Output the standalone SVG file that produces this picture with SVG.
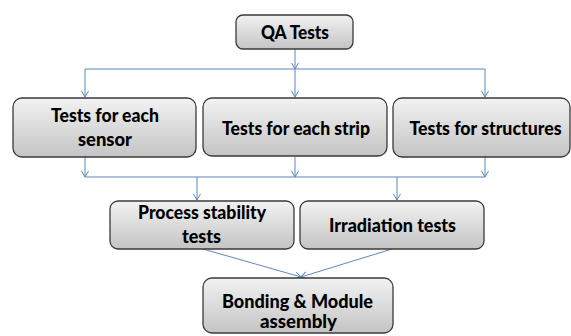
<svg xmlns="http://www.w3.org/2000/svg" width="571" height="336" viewBox="0 0 571 336">
<style>
.box{fill:url(#g);stroke:#3a3a3a;stroke-width:1.3}
.t{font-family:Lato,"Liberation Sans",sans-serif;font-weight:900;font-size:18px;fill:#000;text-anchor:middle}
.c{fill:none;stroke:#5b87c0;stroke-width:1}
</style>
<defs>
<linearGradient id="g" x1="0" y1="0" x2="0" y2="1">
<stop offset="0" stop-color="#f2f2f2"/>
<stop offset="1" stop-color="#c4c4c4"/>
</linearGradient>
<marker id="a" markerWidth="10" markerHeight="10" refX="7" refY="4" orient="auto" markerUnits="userSpaceOnUse">
<path d="M1,0.5 L7,4 L1,7.5" fill="none" stroke="#5b87c0" stroke-width="1"/>
</marker>
</defs>
<rect width="571" height="336" fill="#fff"/>
<g id="connectors">
<path class="c" d="M295,49 V69" marker-end="url(#a)"/>
<path class="c" d="M85,69 H485"/>
<path class="c" d="M85,69 V97" marker-end="url(#a)"/>
<path class="c" d="M295,69 V97" marker-end="url(#a)"/>
<path class="c" d="M485,69 V97" marker-end="url(#a)"/>
<path class="c" d="M85,157 V177" marker-end="url(#a)"/>
<path class="c" d="M295,157 V177" marker-end="url(#a)"/>
<path class="c" d="M485,157 V177" marker-end="url(#a)"/>
<path class="c" d="M85,177 H485"/>
<path class="c" d="M197,177 V200" marker-end="url(#a)"/>
<path class="c" d="M397,177 V200" marker-end="url(#a)"/>
<path class="c" d="M203,249 L301,277" marker-end="url(#a)"/>
<path class="c" d="M392,249 L301,277" marker-end="url(#a)"/>
</g>
<g id="qa">
<rect class="box" x="236" y="15" width="117" height="34" rx="7"/>
<text class="t" x="295" y="39" textLength="68" lengthAdjust="spacingAndGlyphs">QA Tests</text>
</g>
<g id="sensor">
<rect class="box" x="13" y="98" width="183" height="59" rx="9"/>
<text class="t" x="105" y="122" textLength="108" lengthAdjust="spacingAndGlyphs">Tests for each</text>
<text class="t" x="105" y="146" textLength="54" lengthAdjust="spacingAndGlyphs">sensor</text>
</g>
<g id="strip">
<rect class="box" x="203" y="98" width="184" height="58" rx="9"/>
<text class="t" x="296" y="135" textLength="148" lengthAdjust="spacingAndGlyphs">Tests for each strip</text>
</g>
<g id="structures">
<rect class="box" x="393" y="98" width="177" height="59" rx="9"/>
<text class="t" x="485.5" y="135" textLength="152" lengthAdjust="spacingAndGlyphs">Tests for structures</text>
</g>
<g id="process">
<rect class="box" x="110" y="201" width="184" height="48" rx="8"/>
<text class="t" x="202" y="219" textLength="128" lengthAdjust="spacingAndGlyphs">Process stability</text>
<text class="t" x="201.5" y="243" textLength="39" lengthAdjust="spacingAndGlyphs">tests</text>
</g>
<g id="irradiation">
<rect class="box" x="300" y="201" width="184" height="48" rx="8"/>
<text class="t" x="392.5" y="232" textLength="127" lengthAdjust="spacingAndGlyphs">Irradiation tests</text>
</g>
<g id="bonding">
<rect class="box" x="203" y="278" width="190" height="55" rx="9"/>
<text class="t" x="297.5" y="308" textLength="151" lengthAdjust="spacingAndGlyphs">Bonding &amp; Module</text>
<text class="t" x="298.5" y="328" textLength="77" lengthAdjust="spacingAndGlyphs">assembly</text>
</g>
</svg>
